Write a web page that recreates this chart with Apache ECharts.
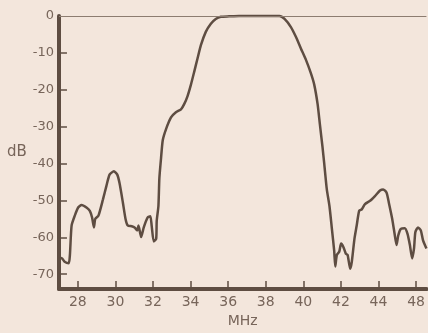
<!DOCTYPE html>
<html><head><meta charset="utf-8">
<script src="https://cdn.jsdelivr.net/npm/echarts@6/dist/echarts.min.js"></script>
<style>html,body{margin:0;padding:0;background:#f3e6dc}#c{width:428px;height:333px}</style>
</head><body><div id="c"></div>
<script>
const freqMHz = [27.05,27.16,27.3,27.52,27.58,27.67,27.84,28.02,28.2,28.46,28.64,28.76,28.86,28.93,29.1,29.34,29.52,29.69,29.92,30.1,30.22,30.4,30.54,30.66,30.87,31.02,31.16,31.23,31.37,31.51,31.72,31.86,31.93,32.04,32.17,32.2,32.29,32.34,32.43,32.52,32.7,32.96,33.22,33.49,33.66,33.84,34.02,34.2,34.37,34.55,34.81,35.08,35.34,35.61,36.05,36.58,37.1,37.99,38.73,39.0,39.34,39.61,39.87,40.14,40.4,40.58,40.76,40.88,41.02,41.11,41.25,41.39,41.52,41.64,41.7,41.78,41.91,42.01,42.13,42.26,42.36,42.49,42.58,42.72,42.84,42.97,43.11,43.28,43.55,43.81,44.08,44.25,44.43,44.55,44.73,44.87,44.96,45.05,45.19,45.4,45.54,45.67,45.79,45.89,45.96,46.1,46.25,46.37,46.55];
const responseDb = [-65.5,-65.7,-66.6,-67,-64.8,-56.8,-54.1,-51.9,-51.2,-51.9,-52.8,-54.6,-57.3,-55,-54.1,-49.7,-46.1,-43,-42.1,-43,-45.3,-50.6,-55,-56.8,-57,-57.3,-58.1,-56.8,-59.9,-57.3,-54.6,-54.3,-56.8,-61.1,-60.4,-55.5,-51.5,-44,-38.5,-33.7,-30.6,-27.5,-26.1,-25.3,-23.9,-21.7,-18.6,-15,-11.5,-7.9,-4.3,-2.1,-0.8,-0.2,-0.1,0,0,0,0,-0.8,-3,-5.7,-8.8,-11.9,-15.5,-18.6,-23.9,-29.3,-35.5,-39.9,-47,-51.5,-57.7,-63.5,-67.9,-64.8,-63.9,-61.7,-62.6,-64.4,-64.8,-68.5,-66.6,-60.4,-56.8,-52.8,-52.4,-51,-50.1,-48.8,-47.3,-47,-47.9,-50.6,-55,-59.5,-62.1,-59.5,-57.7,-57.5,-59,-62.1,-65.7,-63,-58.6,-57.3,-58.1,-60.8,-63];
const xTickValues = [28,30,32,34,36,38,40,42,44,46];
const xTickLabels = ['28','30','32','34','36','38','40','42','44','48'];
const yTickValues = [0,-10,-20,-30,-40,-50,-60,-70];
const yTickLabels = ['0','-10','-20','-30','-40','-50','-60','-70'];

const ink = '#5e4d42', txt = '#77655a', font = 'DejaVu Sans';
const X_MIN = 27, X_MAX = 46.55, Y_MIN = -74, Y_MAX = 0;
const W = 428, H = 333, G = {left: 59, top: 16, right: 0, bottom: 40};
const TICK_PX = 8;
// tick length converted to data units through the plot size
const xTickLen = TICK_PX * (X_MAX - X_MIN) / (W - G.left - G.right);
const yTickLen = TICK_PX * (Y_MAX - Y_MIN) / (H - G.top - G.bottom);
const tickSegments = [
  ...xTickValues.map(v => [{coord: [v, Y_MIN]}, {coord: [v, Y_MIN + yTickLen]}]),
  ...yTickValues.filter(v => v !== 0).map(v => [{coord: [X_MIN, v]}, {coord: [X_MIN + xTickLen, v]}])
];

const chart = echarts.init(document.getElementById('c'));
chart.setOption({
  backgroundColor: '#f3e6dc',
  animation: false,
  grid: G,
  xAxis: {
    type: 'value', min: X_MIN, max: X_MAX,
    name: 'MHz', nameLocation: 'middle', nameGap: 25,
    nameTextStyle: {color: txt, fontFamily: font, fontSize: 14},
    axisLine: {onZero: false, lineStyle: {color: ink, width: 4}},
    axisTick: {show: false},
    axisLabel: {customValues: xTickValues, color: txt, fontFamily: font, fontSize: 14, margin: 6,
      formatter: v => xTickLabels[xTickValues.indexOf(v)]},
    splitLine: {show: false}
  },
  yAxis: {
    type: 'value', min: Y_MIN, max: Y_MAX,
    name: 'dB', nameLocation: 'middle', nameGap: 27, nameRotate: 0,
    nameTextStyle: {color: txt, fontFamily: font, fontSize: 15},
    axisLine: {onZero: false, lineStyle: {color: ink, width: 4}},
    axisTick: {show: false},
    axisLabel: {customValues: yTickValues, color: txt, fontFamily: font, fontSize: 13, margin: 5,
      formatter: v => yTickLabels[yTickValues.indexOf(v)]},
    splitLine: {show: false}
  },
  series: [{
    type: 'line',
    data: freqMHz.map((f, i) => [f, responseDb[i]]),
    showSymbol: false,
    smooth: 0.2,
    clip: false,
    lineStyle: {color: ink, width: 2.5},
    markLine: {silent: true, symbol: 'none', label: {show: false},
      lineStyle: {color: '#8c7c70', width: 1, type: 'solid'},
      data: [{yAxis: 0}]}
  }, {
    type: 'line',
    data: [],
    silent: true,
    markLine: {silent: true, symbol: 'none', label: {show: false}, animation: false,
      lineStyle: {color: ink, width: 1.5, type: 'solid'},
      data: tickSegments}
  }]
});
</script></body></html>
